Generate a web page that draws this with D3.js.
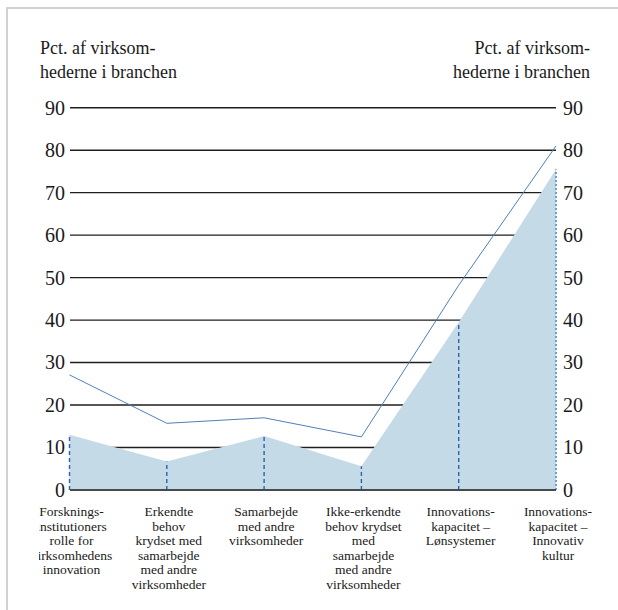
<!DOCTYPE html>
<html>
<head>
<meta charset="utf-8">
<script src="https://cdn.jsdelivr.net/npm/d3@7"></script>
<style>
  html, body { margin: 0; padding: 0; background: #fff; }
  svg { display: block; }
</style>
</head>
<body>
<svg id="chart" width="618" height="610" font-family="Liberation Serif"></svg>
<script>
// Categories (each label split into its printed lines)
const categories = [
  ["Forsknings-", "institutioners", "rolle for", "virksomhedens", "innovation"],
  ["Erkendte", "behov", "krydset med", "samarbejde", "med andre", "virksomheder"],
  ["Samarbejde", "med andre", "virksomheder"],
  ["Ikke-erkendte", "behov krydset", "med", "samarbejde", "med andre", "virksomheder"],
  ["Innovations-", "kapacitet –", "Lønsystemer"],
  ["Innovations-", "kapacitet –", "Innovativ", "kultur"]
];
// Shaded area series (pct.)
const areaValues = [13, 6.7, 12.7, 5.6, 39.5, 75.5];
// Thin line series (pct.)
const lineValues = [27.1, 15.7, 17, 12.5, 48.2, 81];
// Y axis ticks
const yTicks = [0, 10, 20, 30, 40, 50, 60, 70, 80, 90];
const axisTitle = ["Pct. af virksom-", "hederne i branchen"];

const FONT = "Liberation Serif";
const svg = d3.select("#chart");
const textColor = "#1a1a1a";

// Frame
svg.append("line").attr("x1", 7).attr("x2", 7).attr("y1", 7).attr("y2", 610)
  .attr("stroke", "#d2d2d2").attr("stroke-width", 2);
svg.append("line").attr("x1", 6).attr("x2", 618).attr("y1", 8).attr("y2", 8)
  .attr("stroke", "#d2d2d2").attr("stroke-width", 2);

const idx = categories.map((d, i) => i);
const x = d3.scalePoint().domain(idx).range([69.5, 556]);
const y = d3.scaleLinear().domain([0, 90]).range([490, 107.7]);

// Axis titles, left and right
[[40, "start"], [590, "end"]].forEach(([tx, anchor]) => {
  const t = svg.append("text").attr("x", tx).attr("y", 54)
    .attr("font-family", FONT)
    .attr("text-anchor", anchor).attr("font-size", 18).attr("fill", textColor);
  axisTitle.forEach((line, i) => {
    t.append("tspan").attr("x", tx).attr("dy", i === 0 ? 0 : 24).text(line);
  });
});

// Horizontal gridlines (drawn under the area)
svg.append("g").selectAll("line").data(yTicks.filter(v => v > 0)).join("line")
  .attr("x1", 70).attr("x2", 556)
  .attr("y1", d => y(d)).attr("y2", d => y(d))
  .attr("stroke", "#1e1e1e").attr("stroke-width", 1.4);

// Left and right tick labels via d3 axes (domain path and tick lines hidden)
const leftAxis = svg.append("g").attr("transform", "translate(70,0)")
  .call(d3.axisLeft(y).tickValues(yTicks).tickSize(0).tickPadding(5));
const rightAxis = svg.append("g").attr("transform", "translate(556,0)")
  .call(d3.axisRight(y).tickValues(yTicks).tickSize(0).tickPadding(7));
[leftAxis, rightAxis].forEach(g => {
  g.select(".domain").remove();
  g.attr("font-family", FONT).attr("font-size", 20);
  g.selectAll("text").attr("font-size", 20)
    .attr("font-family", FONT)
    .attr("fill", textColor);
});

// Shaded area
const area = d3.area().x((d, i) => x(i)).y0(y(0)).y1(d => y(d));
svg.append("path").datum(areaValues).attr("d", area).attr("fill", "#c4dae6");

// Vertical dashed drop lines at each category
svg.append("g").selectAll("line").data(areaValues).join("line")
  .attr("x1", (d, i) => x(i)).attr("x2", (d, i) => x(i))
  .attr("y1", y(0)).attr("y2", d => y(d))
  .attr("stroke", (d, i) => i === areaValues.length - 1 ? "#6e9ed6" : "#2a62ad")
  .attr("stroke-width", (d, i) => i === areaValues.length - 1 ? 2 : 1.4)
  .attr("stroke-dasharray", (d, i) => i === areaValues.length - 1 ? "2,2" : "4,3");

// Zero baseline
svg.append("line").attr("x1", 70).attr("x2", 556).attr("y1", y(0)).attr("y2", y(0))
  .attr("stroke", "#4a4a4a").attr("stroke-width", 2.2);

// Thin line series
const line = d3.line().x((d, i) => x(i)).y(d => y(d));
svg.append("path").datum(lineValues).attr("d", line)
  .attr("fill", "none").attr("stroke", "#4f7fb8").attr("stroke-width", 1);

// Category labels, clipped on the left edge
svg.append("defs").append("clipPath").attr("id", "labelClip")
  .append("rect").attr("x", 39).attr("y", 495).attr("width", 579).attr("height", 115);
const labels = svg.append("g").attr("clip-path", "url(#labelClip)");
categories.forEach((lines, i) => {
  const cx = x(i) + 2;
  const t = labels.append("text").attr("x", cx).attr("y", 516)
    .attr("font-family", FONT)
    .attr("text-anchor", "middle").attr("font-size", 13.5).attr("fill", textColor);
  lines.forEach((ln, j) => {
    t.append("tspan").attr("x", cx).attr("dy", j === 0 ? 0 : 14.6).text(ln);
  });
});
</script>
</body>
</html>
